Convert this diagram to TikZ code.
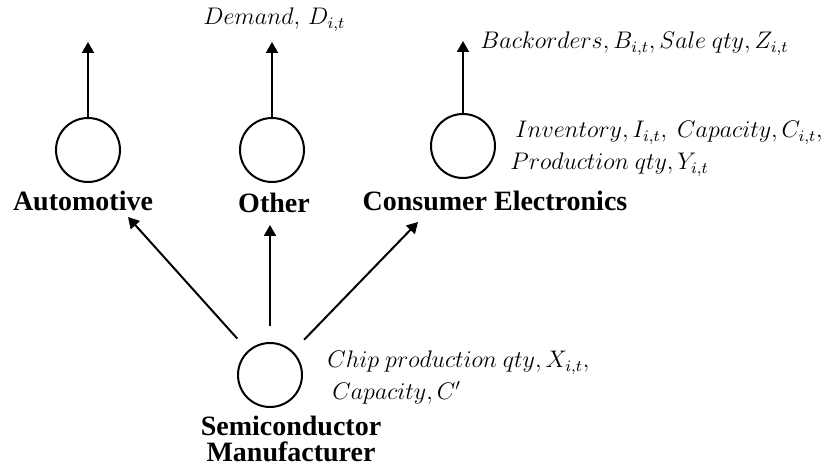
\documentclass[tikz,border=0pt]{standalone}
\usepackage{fontspec}
\setmainfont{Liberation Serif}
\usetikzlibrary{positioning, arrows.meta}

\begin{document}
\begin{tikzpicture}[x=0.5pt, y=-0.5pt,
  nd/.style={draw, circle, line width=1pt, minimum size=32pt, inner sep=0pt},
  lbl/.style={font=\bfseries\fontsize{14}{13}\selectfont, align=center, inner sep=0pt},
  var/.style={font=\fontsize{12}{14}\selectfont, anchor=west, inner sep=0pt},
  arr/.style={-{Triangle[length=5.5pt, width=6pt]}, line width=1pt}
]
  \useasboundingbox (0,0) rectangle (825,469);

  \node[nd] (auto) at (88,150) {};
  \node[nd] (oth) at (272,150) {};
  \node[nd] (ce) at (463,146) {};
  \node[nd] (semi) at (270,375) {};

  \node[lbl] (autol) at (83,201) {Automotive};
  \node[lbl] (othl) at (274,203) {Other};
  \node[lbl] (cel) at (495,201) {Consumer Electronics};
  \node[lbl] (semil) at (291,439) {Semiconductor\\Manufacturer};

  \node[var] (dem) at (203,20) {$Demand,\,D_{i,t}$};
  \node[var] (bo) at (480,44) {$Backorders,B_{i,t},Sale\ qty,Z_{i,t}$};
  \node[var] (inv) at (515,133) {$Inventory,I_{i,t},\ Capacity,C_{i,t},$};
  \node[var] (prod) at (510,165) {$Production\ qty,Y_{i,t}$};
  \node[var] (chip) at (327,363) {$Chip\ production\ qty,X_{i,t},$};
  \node[var] (cap) at (332,393) {$Capacity,C'$};

  \coordinate (autot) at (88,42);
  \coordinate (otht) at (272,42);
  \coordinate (cet) at (463,41);
  \coordinate (sa) at (128,217);
  \coordinate (so) at (270,225);
  \coordinate (sc) at (418,222);

  \foreach \a/\b in {auto/autot, oth/otht, ce/cet}
    \draw[arr] (\a) -- (\b);

  \foreach \b in {sa, so, sc}
    \draw[arr, shorten <=8pt] (semi) -- (\b);
\end{tikzpicture}
\end{document}
